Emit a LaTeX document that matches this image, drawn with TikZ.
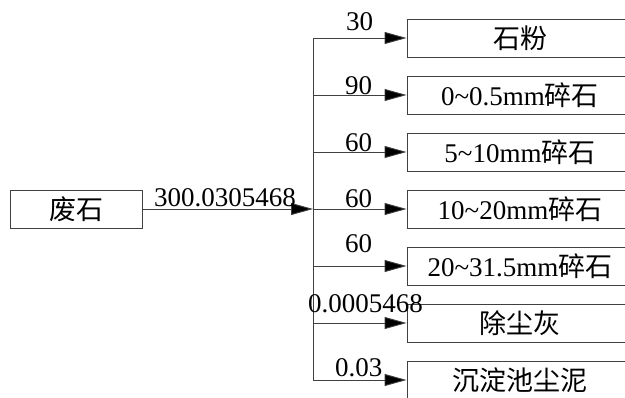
\documentclass[tikz,border=0pt]{standalone}
\usepackage{fontspec}
\setmainfont{Liberation Serif}
\newfontfamily\cjk{Noto Sans CJK SC}
\usetikzlibrary{arrows.meta}
\tikzset{
  box/.style={draw=black!75, line width=0.9pt, minimum width=226pt, minimum height=38pt, inner sep=0pt, font=\fontsize{27}{30}\selectfont},
  srcbox/.style={draw=black!75, line width=0.9pt, minimum width=132pt, minimum height=38pt, inner sep=0pt, font=\fontsize{27}{30}\selectfont},
  flow/.style={draw=black!75, line width=0.9pt, -{Triangle[length=22pt,width=12pt,fill=black]}},
  trunk/.style={draw=black!75, line width=0.9pt},
  qty/.style={anchor=base west, inner sep=0pt, font=\fontsize{27}{30}\selectfont}
}
\begin{document}
\begin{tikzpicture}[x=1pt,y=-1pt]
\clip (0,0) rectangle (625,397);
\fill[white] (0,0) rectangle (625,397);
\node[srcbox] (src) at (76,209) {{\cjk 废石}};
\node[box] (b1) at (520,38) {{\cjk 石粉}};
\node[box] (b2) at (520,95) {0\textasciitilde0.5mm{\cjk 碎石}};
\node[box] (b3) at (520,152) {5\textasciitilde10mm{\cjk 碎石}};
\node[box] (b4) at (520,209) {10\textasciitilde20mm{\cjk 碎石}};
\node[box] (b5) at (520,266) {20\textasciitilde31.5mm{\cjk 碎石}};
\node[box] (b6) at (520,323) {{\cjk 除尘灰}};
\node[box] (b7) at (520,380) {{\cjk 沉淀池尘泥}};
\coordinate (j) at (313,209);
\coordinate (t1) at (313,38);
\coordinate (t2) at (313,95);
\coordinate (t3) at (313,152);
\coordinate (t5) at (313,266);
\coordinate (t6) at (313,323);
\coordinate (t7) at (313,380);
\draw[trunk] (t1) -- (t7);
\draw[flow] (src.east) -- (j);
\draw[flow] (t1) -- (b1.west);
\draw[flow] (t2) -- (b2.west);
\draw[flow] (t3) -- (b3.west);
\draw[flow] (j) -- (b4.west);
\draw[flow] (t5) -- (b5.west);
\draw[flow] (t6) -- (b6.west);
\draw[flow] (t7) -- (b7.west);
\node[qty] (q0) at (154,206) {300.0305468};
\node[qty] (q1) at (346,30) {30};
\node[qty] (q2) at (345,94) {90};
\node[qty] (q3) at (345,151) {60};
\node[qty] (q4) at (345,207) {60};
\node[qty] (q5) at (345,252) {60};
\node[qty] (q6) at (308,312) {0.0005468};
\node[qty] (q7) at (335,376) {0.03};
\end{tikzpicture}
\end{document}
